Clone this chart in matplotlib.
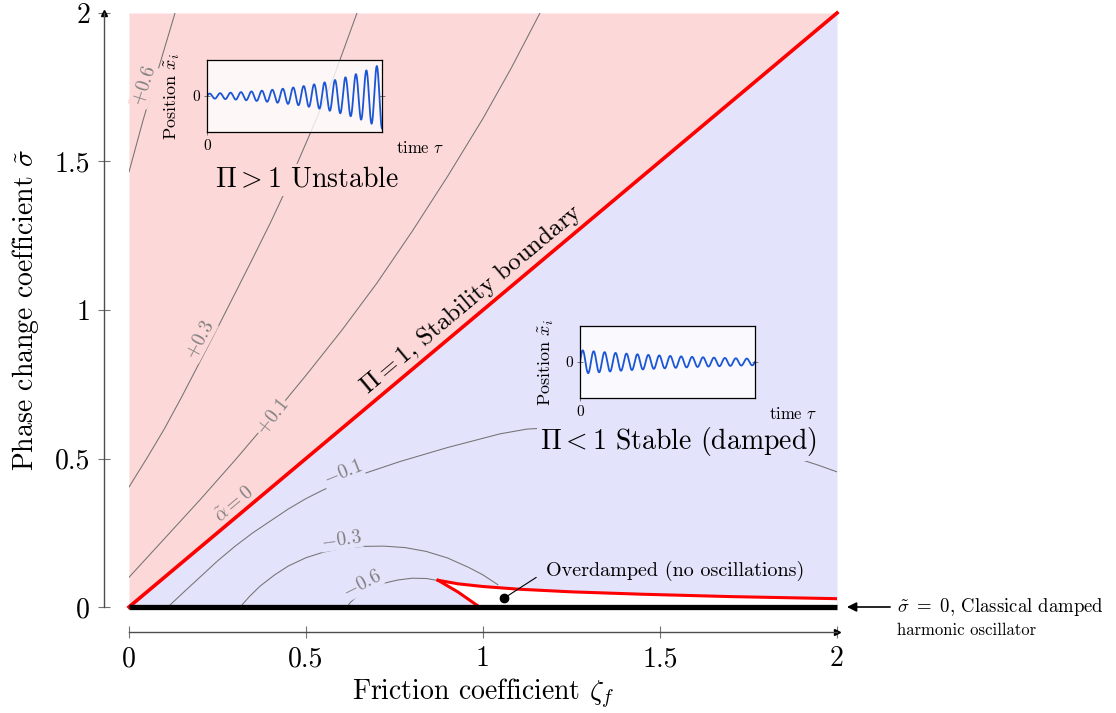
import numpy as np
import matplotlib
matplotlib.use('Agg')
from matplotlib import pyplot as plt
from matplotlib.transforms import offset_copy

plt.rcParams['font.family'] = 'cmr10'
plt.rcParams['mathtext.fontset'] = 'cm'
plt.rcParams['axes.formatter.use_mathtext'] = True

# Оси
ticks = [0, 0.5, 1, 1.5, 2]
tick_labels = ['0', '0.5', '1', '1.5', '2']

# Граница устойчивости sigma = zeta
boundary_zeta = [0, 2]
boundary_sigma = [0, 2]

# Изолинии alpha
zeta_p06 = [0.0, 0.04, 0.085, 0.13]
sigma_p06 = [1.465, 1.64, 1.82, 2.0]
zeta_p03 = [0.0, 0.05, 0.1, 0.15, 0.2, 0.257, 0.3, 0.35, 0.4, 0.435, 0.483, 0.53, 0.58, 0.644]
sigma_p03 = [0.404, 0.5, 0.6, 0.71, 0.825, 0.956, 1.057, 1.175, 1.295, 1.384, 1.515, 1.645, 1.79, 2.0]
zeta_p01 = [0.0, 0.1, 0.2, 0.3, 0.4, 0.5, 0.6, 0.7, 0.8, 0.9, 1.0, 1.08, 1.161]
sigma_p01 = [0.10, 0.23, 0.36, 0.495, 0.635, 0.78, 0.93, 1.09, 1.265, 1.45, 1.645, 1.815, 2.0]
zeta_m01 = [0.11, 0.15, 0.2, 0.25, 0.3, 0.35, 0.4, 0.45, 0.5, 0.55, 0.6, 0.661, 0.766,
            0.9, 1.048, 1.124, 1.25, 1.4, 1.55, 1.7, 1.85, 1.946, 2.0]
sigma_m01 = [0.0, 0.045, 0.1, 0.155, 0.205, 0.25, 0.29, 0.33, 0.365, 0.395, 0.42, 0.448, 0.49,
             0.537, 0.583, 0.599, 0.607, 0.604, 0.59, 0.562, 0.515, 0.478, 0.455]
zeta_m03 = [0.314, 0.34, 0.37, 0.41, 0.45, 0.5, 0.55, 0.6, 0.66, 0.72, 0.78, 0.84, 0.9,
            0.96, 1.0, 1.042]
sigma_m03 = [0.0, 0.035, 0.07, 0.107, 0.138, 0.166, 0.185, 0.197, 0.204, 0.205, 0.2, 0.187,
             0.165, 0.133, 0.108, 0.075]
zeta_m06 = [0.616, 0.625, 0.64, 0.66, 0.685, 0.72, 0.76, 0.8, 0.84, 0.873]
sigma_m06 = [0.0, 0.015, 0.032, 0.05, 0.066, 0.08, 0.091, 0.097, 0.096, 0.089]

contour_lines = [(zeta_p06, sigma_p06), (zeta_p03, sigma_p03), (zeta_p01, sigma_p01),
                 (zeta_m01, sigma_m01), (zeta_m03, sigma_m03), (zeta_m06, sigma_m06)]

# Подписи изолиний: текст, zeta, sigma, угол
contour_labels = ['$+0.6$', '$+0.3$', '$+0.1$', r'$\tilde{\alpha} = 0$', '$-0.1$', '$-0.3$', '$-0.6$']
label_zeta = [0.042, 0.20, 0.404, 0.30, 0.604, 0.60, 0.658]
label_sigma = [1.754, 0.899, 0.64, 0.343, 0.451, 0.226, 0.077]
label_angle = [72, 62, 52, 40, 22, 8, 27]

# Апериодическая область
zeta_od_upper = [0.873, 0.93, 1.0, 1.1, 1.25, 1.45, 1.7, 2.0]
sigma_od_upper = [0.090, 0.078, 0.069, 0.060, 0.051, 0.043, 0.035, 0.028]
zeta_od_lower = [0.873, 0.93, 0.99]
sigma_od_lower = [0.090, 0.050, 0.0]
overdamped_point = (1.06, 0.03)

# Врезки: колебания
n_cycles_unstable = 16.75
amp0_unstable = 0.065
amp1_unstable = 0.9
n_cycles_stable = 16.0
amp0_stable = 0.33
amp1_stable = 0.09

pink = '#fdd8d8'
blue = '#e3e3fb'

fig = plt.figure(figsize=(11.16, 7.13), dpi=100)
ax = fig.add_axes([129 / 1116, 1 - 607 / 713, 708 / 1116, 594 / 713])

ax.fill_between(boundary_zeta, boundary_sigma, 2, color=pink, lw=0, zorder=0)
ax.fill_between(boundary_zeta, 0, boundary_sigma, color=blue, lw=0, zorder=0)

od_x = np.concatenate([zeta_od_upper, [2.0], zeta_od_lower[::-1]])
od_y = np.concatenate([sigma_od_upper, [0.0], sigma_od_lower[::-1]])
ax.fill(od_x, od_y, color='white', lw=0, zorder=1)

for zz, ss in contour_lines:
    ax.plot(zz, ss, color='0.45', lw=0.75, zorder=2)

for s, x, y, a in zip(contour_labels, label_zeta, label_sigma, label_angle):
    bg = pink if y > x else blue
    ax.text(x, y, s, rotation=a, color='0.5', fontsize=14, ha='center', va='center',
            zorder=3, bbox=dict(fc=bg, ec='none', pad=0.5))

ax.plot(boundary_zeta, boundary_sigma, color='red', lw=2.6, zorder=4, clip_on=False)
ax.plot(zeta_od_upper, sigma_od_upper, color='red', lw=2.2, zorder=4)
ax.plot(zeta_od_lower, sigma_od_lower, color='red', lw=2.2, zorder=4)
ax.plot([0, 2], [0, 0], color='black', lw=3.8, zorder=5, clip_on=False, solid_capstyle='butt')

ax.text(0.966, 1.037, r'$\Pi = 1$, Stability boundary', rotation=40, fontsize=18,
        ha='center', va='center', zorder=6)
ax.text(0.503, 1.438, r'$\Pi > 1$ Unstable', fontsize=20, ha='center', va='center', zorder=6,
        bbox=dict(fc=pink, ec='none', pad=2))
ax.text(1.551, 0.556, r'$\Pi < 1$ Stable (damped)', fontsize=20, ha='center', va='center', zorder=6,
        bbox=dict(fc=blue, ec='none', pad=2))

ax.plot(*overdamped_point, 'o', color='black', ms=6, zorder=7)
ax.annotate('Overdamped (no oscillations)', xy=overdamped_point, xytext=(1.178, 0.121),
            fontsize=14.5, ha='left', va='center', zorder=7,
            arrowprops=dict(arrowstyle='-', lw=0.8, color='black', relpos=(0, 0.5),
                            shrinkA=6, shrinkB=0))

ax.annotate('', xy=(2.028, 0), xytext=(2.15, 0), annotation_clip=False,
            arrowprops=dict(arrowstyle='-|>', color='black', lw=1.2, shrinkA=0, shrinkB=0,
                            mutation_scale=14))
ax.text(2.169, 0.0, r'$\tilde{\sigma}\ =\ 0$, Classical damped',
        fontsize=13.5, ha='left', va='center', clip_on=False)
ax.text(2.169, -0.077, 'harmonic oscillator',
        fontsize=12, ha='left', va='center', clip_on=False)

ax.set_xlim(0, 2)
ax.set_ylim(0, 2)
ax.set_xticks(ticks)
ax.set_xticklabels(tick_labels)
ax.set_yticks(ticks)
ax.set_yticklabels(tick_labels)
ax.tick_params(direction='inout', length=8, width=0.8, color='0.45', labelsize=20, pad=6)
for side in ['top', 'right']:
    ax.spines[side].set_visible(False)
for side in ['left', 'bottom']:
    ax.spines[side].set_position(('outward', 18))
    ax.spines[side].set_color('0.3')
    ax.spines[side].set_linewidth(1.0)
ax.set_xlabel(r'Friction coefficient $\zeta_f$', fontsize=20, labelpad=3)
ax.set_ylabel(r'Phase change coefficient $\tilde{\sigma}$', fontsize=20, labelpad=10)

# стрелки на концах осей
tr_y = offset_copy(ax.transAxes, fig=fig, x=-18, y=0, units='points')
ax.plot([0], [1], marker='^', color='black', ms=5, transform=tr_y, clip_on=False)
tr_x = offset_copy(ax.transAxes, fig=fig, x=0, y=-18, units='points')
ax.plot([1], [0], marker='>', color='black', ms=5, transform=tr_x, clip_on=False)


# Врезки
def inset(rect, bg_alpha, n_cycles, amp0, amp1):
    a = fig.add_axes(rect)
    a.set_facecolor((1, 1, 1, bg_alpha))
    t = np.linspace(0, 1, 1500)
    amp = amp0 * (amp1 / amp0) ** t
    a.plot(t, amp * np.sin(2 * np.pi * n_cycles * t), color='#1a56d6', lw=1.3)
    a.set_xlim(0, 1)
    a.set_ylim(-1, 1)
    a.set_xticks([0])
    a.set_xticklabels(['0'])
    a.set_yticks([0])
    a.set_yticklabels(['0'])
    a.tick_params(direction='inout', length=4, width=0.6, color='0.4', labelsize=11,
                  right=True, pad=3)
    for sp in a.spines.values():
        sp.set_linewidth(0.9)
    a.set_xlabel(r'time $\tau$', fontsize=12)
    a.xaxis.set_label_coords(1.22, -0.11)
    a.set_ylabel(r'Position $\tilde{x}_i$', fontsize=13)
    a.yaxis.set_label_coords(-0.14, 0.5)
    return a


inset([207 / 1116, 1 - 132 / 713, 175 / 1116, 72 / 713], 0.8,
      n_cycles_unstable, amp0_unstable, amp1_unstable)
inset([580 / 1116, 1 - 398 / 713, 175 / 1116, 72 / 713], 0.8,
      n_cycles_stable, amp0_stable, amp1_stable)

fig.savefig('out.png', dpi=100)
